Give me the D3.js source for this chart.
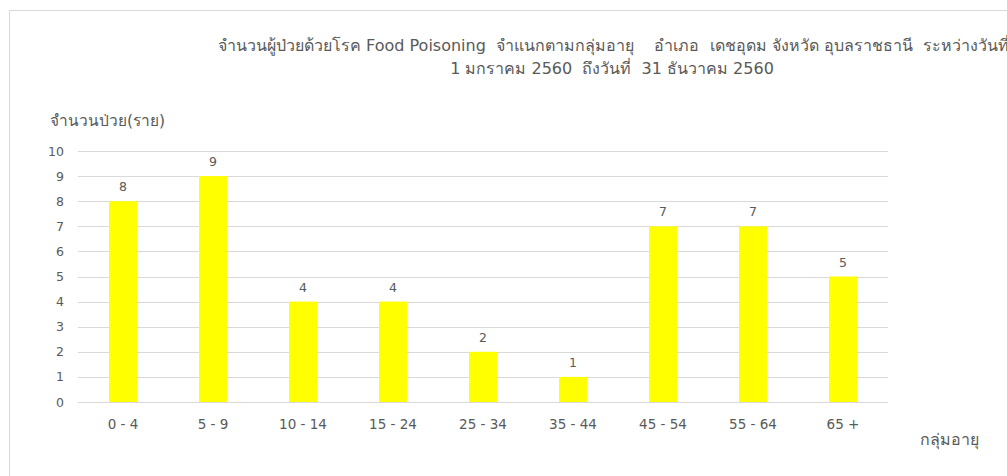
<!DOCTYPE html>
<html>
<head>
<meta charset="utf-8">
<script src="https://cdn.jsdelivr.net/npm/d3@7"></script>
<style>
  body { margin: 0; background: #fff; }
  svg text { font-family: Tahoma, "DejaVu Sans", "Noto Sans", sans-serif; fill: #595959; }
</style>
</head>
<body>
<div id="wrapper"></div>
<script>
// age groups and patient counts
const ageGroups = ["0 - 4", "5 - 9", "10 - 14", "15 - 24", "25 - 34", "35 - 44", "45 - 54", "55 - 64", "65 +"];
const patients = [8, 9, 4, 4, 2, 1, 7, 7, 5];
const yTicks = [0, 1, 2, 3, 4, 5, 6, 7, 8, 9, 10];

const titleLine1 = "จำนวนผู้ป่วยด้วยโรค Food Poisoning  จำแนกตามกลุ่มอายุ    อำเภอ  เดชอุดม จังหวัด อุบลราชธานี  ระหว่างวันที่";
const titleLine2 = "1 มกราคม 2560  ถึงวันที่  31 ธันวาคม 2560";
const yTitle = "จำนวนป่วย(ราย)";
const xTitle = "กลุ่มอายุ";

const width = 1007, height = 476;
const dims = { left: 78, right: 888, top: 151, bottom: 402 };

const svg = d3.select("#wrapper").append("svg")
    .attr("width", width)
    .attr("height", height);

// chart frame (runs off the right and bottom edge)
svg.append("rect")
    .attr("x", 9.5).attr("y", 10.5)
    .attr("width", 1100).attr("height", 600)
    .attr("fill", "none")
    .attr("stroke", "#d9d9d9");

const x = d3.scaleBand()
    .domain(ageGroups)
    .range([dims.left, dims.right])
    .paddingInner(0.69)
    .paddingOuter(0.345);

const y = d3.scaleLinear()
    .domain([0, 10])
    .range([dims.bottom, dims.top]);

// gridlines
svg.append("g")
    .selectAll("line")
    .data(yTicks)
    .join("line")
    .attr("x1", dims.left).attr("x2", dims.right)
    .attr("y1", d => Math.round(y(d)) + 0.5)
    .attr("y2", d => Math.round(y(d)) + 0.5)
    .attr("stroke", "#d9d9d9");

// y axis labels
const yAxis = svg.append("g")
    .attr("transform", `translate(${dims.left - 14},0)`)
    .call(d3.axisLeft(y).tickValues(yTicks).tickSize(0).tickPadding(0));
yAxis.select(".domain").remove();
yAxis.selectAll("text").attr("font-size", "12.5px").attr("fill", "#595959");

// bars
svg.append("g")
    .selectAll("rect")
    .data(patients)
    .join("rect")
    .attr("x", (d, i) => x(ageGroups[i]))
    .attr("y", d => y(d))
    .attr("width", x.bandwidth())
    .attr("height", d => y(0) - y(d))
    .attr("fill", "#ffff00");

// value labels
svg.append("g")
    .selectAll("text")
    .data(patients)
    .join("text")
    .attr("x", (d, i) => x(ageGroups[i]) + x.bandwidth() / 2)
    .attr("y", d => y(d) - 10)
    .attr("text-anchor", "middle")
    .attr("font-size", "12.5px")
    .attr("fill", "#404040")
    .text(d => d);

// x axis
const xAxis = svg.append("g")
    .attr("transform", `translate(0,${dims.bottom})`)
    .call(d3.axisBottom(x).tickSize(0).tickPadding(17));
xAxis.select(".domain").remove();
xAxis.selectAll("text").attr("font-size", "13.5px").attr("fill", "#595959");

// titles
svg.append("text")
    .attr("x", 218).attr("y", 51)
    .attr("font-size", "16px")
    .style("white-space", "pre")
    .text(titleLine1);
svg.append("text")
    .attr("x", 612).attr("y", 74)
    .attr("text-anchor", "middle")
    .attr("font-size", "16px")
    .style("white-space", "pre")
    .text(titleLine2);

svg.append("text")
    .attr("x", 50).attr("y", 126)
    .attr("font-size", "15.5px")
    .text(yTitle);

svg.append("text")
    .attr("x", 920).attr("y", 445)
    .attr("font-size", "16px")
    .text(xTitle);
</script>
</body>
</html>
